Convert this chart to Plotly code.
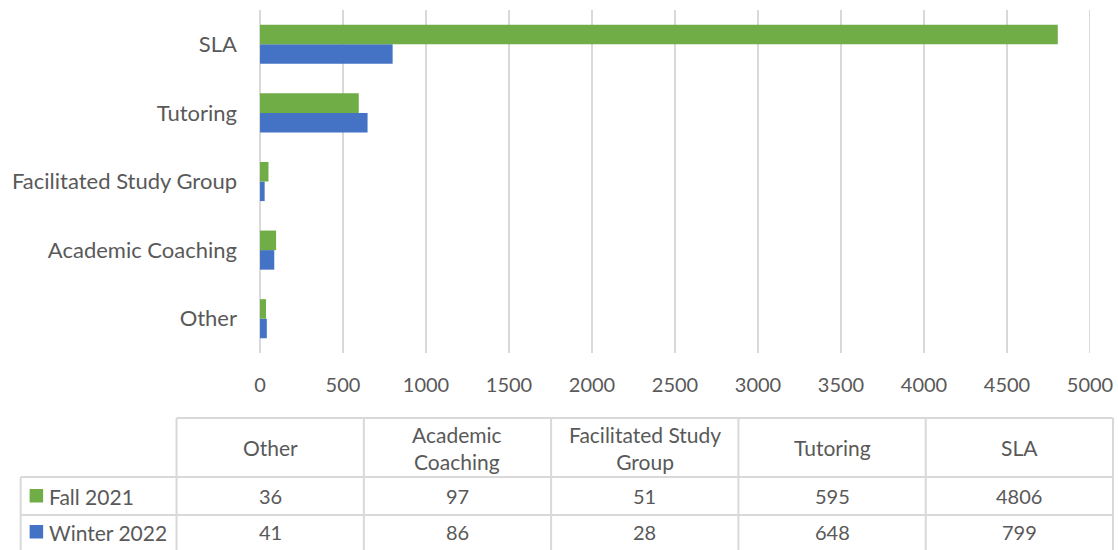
import plotly.graph_objects as go

categories = ["Other", "Academic Coaching", "Facilitated Study Group", "Tutoring", "SLA"]
header_labels = ["Other", "Academic<br>Coaching", "Facilitated Study<br>Group", "Tutoring", "SLA"]
fall_2021 = [36, 97, 51, 595, 4806]
winter_2022 = [41, 86, 28, 648, 799]
series_names = ["Fall 2021", "Winter 2022"]
x_ticks = [0, 500, 1000, 1500, 2000, 2500, 3000, 3500, 4000, 4500, 5000]

GREEN = "#70AD47"
BLUE = "#4472C4"
TXT = "#595959"
GRID = "#D9D9D9"
FONT = "Lato"

W, H = 1118, 550
L, R = 259.5, 1090.0
T, B = 10.0, 353.0

def px(x):
    return (x - L) / (R - L)

def py(y):
    return (B - y) / (B - T)

fig = go.Figure()
fig.add_trace(go.Bar(y=categories, x=winter_2022, orientation="h", name=series_names[1],
                     marker=dict(color=BLUE, line=dict(width=0))))
fig.add_trace(go.Bar(y=categories, x=fall_2021, orientation="h", name=series_names[0],
                     marker=dict(color=GREEN, line=dict(width=0))))

fig.update_layout(
    width=W, height=H, autosize=False,
    margin=dict(l=L, r=W - R, t=T, b=H - B, pad=0, autoexpand=False),
    paper_bgcolor="white", plot_bgcolor="white",
    barmode="group", bargap=0.43, bargroupgap=0,
    showlegend=False,
    font=dict(family=FONT, color=TXT, size=20),
)
fig.update_xaxes(range=[x_ticks[0], x_ticks[-1]], tickvals=x_ticks, showgrid=True, gridcolor=GRID,
                 gridwidth=2, zeroline=True, zerolinecolor=GRID, zerolinewidth=2, showline=False,
                 tickfont=dict(size=20, color=TXT), ticks="", ticklabelstandoff=18,
                 automargin=False)
fig.update_yaxes(showgrid=False, showline=False, ticks="", tickfont=dict(size=22, color=TXT),
                 ticklabelstandoff=22, automargin=False)

shapes = []
# make sure the gridline at the right end of the axis is shown
shapes.append(dict(type="line", xref="x", yref="paper", x0=x_ticks[-1], x1=x_ticks[-1],
                   y0=0, y1=1, layer="below", line=dict(color=GRID, width=2)))

# Data table below the chart
col_edges = [176.0 + i * (1113.0 - 176.0) / 5 for i in range(6)]
left_edge = 20.0
row_edges = [418.0, 477.0, 515.0, 553.0]

def hline(x0, x1, y):
    shapes.append(dict(type="line", xref="paper", yref="paper", x0=px(x0), x1=px(x1),
                       y0=py(y), y1=py(y), line=dict(color=GRID, width=2)))
def vline(x, y0, y1):
    shapes.append(dict(type="line", xref="paper", yref="paper", x0=px(x), x1=px(x),
                       y0=py(y0), y1=py(y1), line=dict(color=GRID, width=2)))

hline(col_edges[0], col_edges[-1], row_edges[0])
for y in row_edges[1:3]:
    hline(left_edge, col_edges[-1], y)
for x in col_edges:
    vline(x, row_edges[0], row_edges[-1])
vline(left_edge, row_edges[1], row_edges[-1])

annotations = []
for i, lab in enumerate(header_labels):
    cx = (col_edges[i] + col_edges[i + 1]) / 2
    cy = (row_edges[0] + row_edges[1]) / 2
    annotations.append(dict(xref="paper", yref="paper", x=px(cx), y=py(cy), text=lab,
                            showarrow=False, xanchor="center", yanchor="middle",
                            font=dict(size=21, color=TXT, family=FONT)))
row_centers = [496.0, 532.0]
rows = [(series_names[0], fall_2021, GREEN), (series_names[1], winter_2022, BLUE)]
for r, (name, vals, col) in enumerate(rows):
    cy = row_centers[r]
    shapes.append(dict(type="rect", xref="paper", yref="paper", x0=px(29), x1=px(42.5),
                       y0=py(cy - 7), y1=py(cy + 6.5), fillcolor=col, line=dict(width=0)))
    annotations.append(dict(xref="paper", yref="paper", x=px(46), y=py(cy), text=name,
                            showarrow=False, xanchor="left", yanchor="middle",
                            font=dict(size=21, color=TXT, family=FONT)))
    for i, v in enumerate(vals):
        cx = (col_edges[i] + col_edges[i + 1]) / 2
        annotations.append(dict(xref="paper", yref="paper", x=px(cx), y=py(cy), text=str(v),
                                showarrow=False, xanchor="center", yanchor="middle",
                                font=dict(size=20, color=TXT, family=FONT)))

fig.update_layout(shapes=shapes, annotations=annotations)
fig.write_html(
    "out.html",
    config={"displayModeBar": False},
    post_script="document.body.style.margin='0';document.body.style.overflow='hidden';",
)
